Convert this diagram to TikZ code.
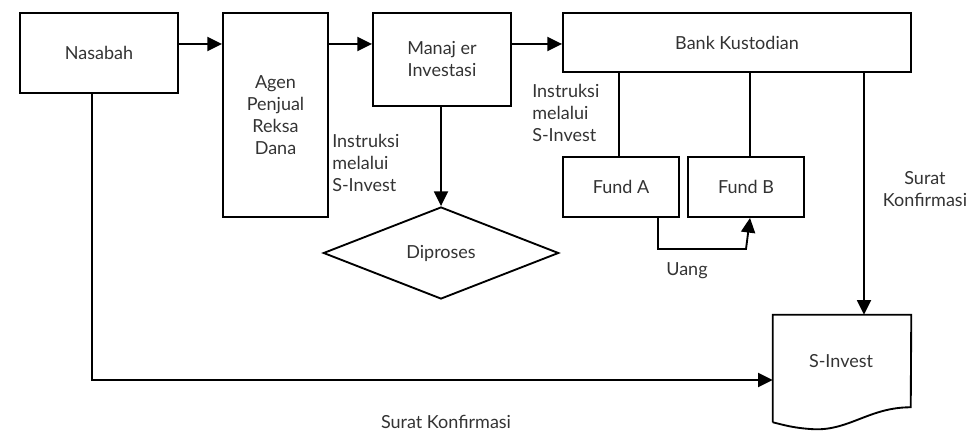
\documentclass[tikz,border=0pt]{standalone}
\usepackage{fontspec}
\setmainfont{Lato}
\usetikzlibrary{arrows.meta,shapes.geometric,calc}
\begin{document}
\begin{tikzpicture}[x=0.75pt,y=-0.75pt,
  every node/.style={font=\fontsize{13.5}{16.5}\selectfont, text=black!80},
  box/.style={draw=black, line width=1.4pt, rectangle, inner sep=0pt, align=center},
  lbl/.style={inner sep=0pt},
  conn/.style={line width=1.4pt, draw=black},
  arr/.style={conn, -{Triangle[length=11pt,width=10.5pt]}},
]
\useasboundingbox (0,0) rectangle (973,431);
% nodes
\node[box, minimum width=118.5pt, minimum height=60pt] (nas) at (99,53) {Nasabah};
\node[box, minimum width=78.75pt, minimum height=153pt] (agen) at (275.5,115) {Agen\\Penjual\\Reksa\\Dana};
\node[box, minimum width=103.5pt, minimum height=69.75pt] (man) at (442,59.5) {Manaj er\\Investasi};
\node[box, minimum width=261pt, minimum height=44.25pt] (bank) at (737,42.5) {Bank Kustodian};
\node[box, minimum width=87pt, minimum height=45pt] (fa) at (621,187) {Fund A};
\node[box, minimum width=87pt, minimum height=45pt] (fb) at (746,187) {Fund B};
\node[box, shape=diamond, aspect=2.56, minimum width=176.5pt, minimum height=69pt] (dia) at (441,253) {Diproses};
\node[inner sep=0pt, minimum width=103.5pt, minimum height=80.25pt] (sinv) at (842,368.5) {};
\node[lbl] (sinvt) at (841,361) {S-Invest};
\draw[line width=1.4pt, line join=miter]
  (sinv.south west) -- (sinv.north west) -- (sinv.north east) -- ($(sinv.south west)+(138,-15)$)
  .. controls ($(sinv.south west)+(97,-15)$) and ($(sinv.south west)+(77,8)$) .. ($(sinv.south west)+(42,7)$)
  .. controls ($(sinv.south west)+(22,6)$) and ($(sinv.south west)+(12,3)$) .. (sinv.south west);
% labels
\node[lbl, anchor=north west, align=left] (l1) at (332,134) {Instruksi\\melalui\\S-Invest};
\node[lbl, anchor=north west, align=left] (l2) at (532,84) {Instruksi\\melalui\\S-Invest};
\node[lbl] (uang) at (687,271) {Uang};
\node[lbl, anchor=north, align=center] (sk1) at (925,171) {Surat\\Konfirmasi};
\node[lbl] (sk2) at (446,422) {Surat Konfirmasi};
% helper coordinates
\coordinate (r44) at (0,44);
\coordinate (r380) at (0,380);
\coordinate (ub) at (0,249);
% connectors
\draw[arr] (nas.east |- r44) -- (agen.west |- r44);
\draw[arr] (agen.east |- r44) -- (man.west |- r44);
\draw[arr] (man.east |- r44) -- (bank.west |- r44);
\draw[arr] ([xshift=-0.75pt]man.south) -- (dia.north);
\draw[conn] ([xshift=-1.5pt]bank.south -| fa.north) -- ([xshift=-1.5pt]fa.north);
\draw[conn] ([xshift=3pt]bank.south -| fb.north) -- ([xshift=3pt]fb.north);
\draw[arr] ([xshift=27.75pt]fa.south) |- (ub -| fb) -- ([xshift=3pt]fb.south);
\draw[arr] ([xshift=-0.75pt]bank.south -| sinv.north) ++(17.25pt,0) coordinate (bk) -- (bk |- sinv.north);
\draw[arr] ([xshift=-5.25pt]nas.south) |- (sinv.west |- r380);
\end{tikzpicture}
\end{document}
